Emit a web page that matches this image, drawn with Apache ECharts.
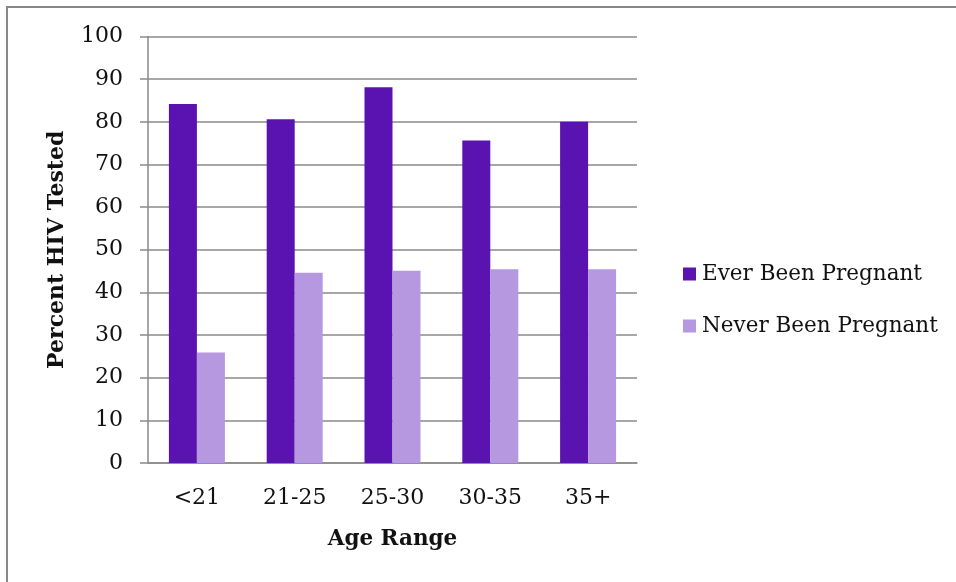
<!DOCTYPE html>
<html>
<head>
<meta charset="utf-8">
<script src="https://cdn.jsdelivr.net/npm/echarts@6/dist/echarts.min.js"></script>
<style>
  html, body { margin: 0; padding: 0; background: #fff; }
  #chart { width: 956px; height: 582px; }
</style>
</head>
<body>
<div id="chart"></div>
<script>
// Age groups and the percentage of women who have been HIV tested
var ageRanges = ['<21', '21-25', '25-30', '30-35', '35+'];
var everPregnant = [84.2, 80.6, 88.1, 75.6, 80.0];
var neverPregnant = [25.9, 44.6, 45.1, 45.4, 45.4];
var seriesNames = ['Ever Been Pregnant', 'Never Been Pregnant'];
var yTicks = { min: 0, max: 100, interval: 10 };

var serif = '"DejaVu Serif", "Liberation Serif", serif';
var ink = '#111';
var lineGray = '#8a8a8a';

var chart = echarts.init(document.getElementById('chart'));
chart.setOption({
  animation: false,
  backgroundColor: '#fff',
  textStyle: { fontFamily: serif, color: ink },
  graphic: [{
    type: 'rect',
    shape: { x: 7, y: 7, width: 1000, height: 1000 },
    style: { fill: 'none', stroke: '#888', lineWidth: 2 },
    silent: true
  }],
  grid: { left: 148, right: 319, top: 36.5, bottom: 119 },
  legend: {
    orient: 'vertical',
    left: 678,
    top: 258,
    itemWidth: 13,
    itemHeight: 13,
    itemGap: 30,
    icon: 'rect',
    textStyle: { fontFamily: serif, fontSize: 21.5, color: ink, padding: [0, 0, 0, 1] },
    data: seriesNames
  },
  xAxis: {
    type: 'category',
    data: ageRanges,
    name: 'Age Range',
    nameLocation: 'middle',
    nameGap: 65,
    nameTextStyle: { fontFamily: serif, fontSize: 21.5, fontWeight: 'bold', color: ink },
    axisLine: { lineStyle: { color: lineGray, width: 1.5 } },
    axisTick: { show: false },
    axisLabel: { fontFamily: serif, fontSize: 22, color: ink, margin: 24 }
  },
  yAxis: {
    type: 'value',
    min: yTicks.min,
    max: yTicks.max,
    interval: yTicks.interval,
    name: 'Percent HIV Tested',
    nameLocation: 'middle',
    nameGap: 80,
    nameTextStyle: { fontFamily: serif, fontSize: 22, fontWeight: 'bold', color: ink },
    axisLine: { show: true, lineStyle: { color: lineGray, width: 1.5 } },
    axisTick: { show: true, inside: false, length: 8, lineStyle: { color: lineGray, width: 1.5 } },
    axisLabel: { fontFamily: serif, fontSize: 22, color: ink, margin: 25 },
    splitLine: { show: true, lineStyle: { color: lineGray, width: 1.5 } }
  },
  series: [
    {
      name: seriesNames[0],
      type: 'bar',
      data: everPregnant,
      barWidth: 28,
      barGap: '0%',
      itemStyle: { color: '#5a12b0' }
    },
    {
      name: seriesNames[1],
      type: 'bar',
      data: neverPregnant,
      barWidth: 28,
      barGap: '0%',
      itemStyle: { color: '#b598e0' }
    }
  ]
});
</script>
</body>
</html>
